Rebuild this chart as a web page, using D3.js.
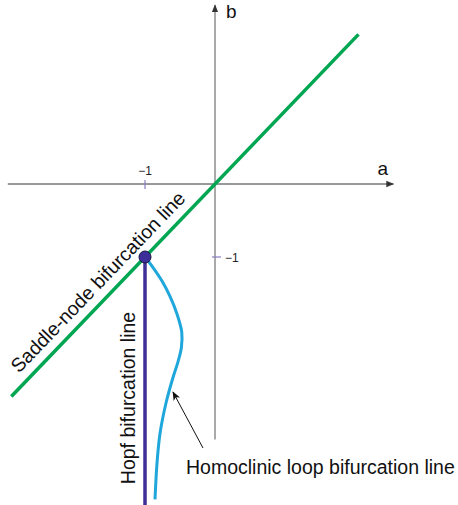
<!DOCTYPE html>
<html>
<head>
<meta charset="utf-8">
<script src="https://cdn.jsdelivr.net/npm/d3@7"></script>
<style>
  body { margin: 0; background: #fff; }
  svg { display: block; font-family: "Liberation Sans", Arial, sans-serif; }
</style>
</head>
<body>
<svg width="458" height="505"></svg>
<script>
// axis extents (data units)
var axisX = [-2.96, 2.55];
var axisY = [-3.5, 2.45];
var tickValues = [-1];

// saddle-node line b = a
var saddleA = [-2.91, 2.05];
// hopf line a = -1
var hopfB = [-1, -4.47];
// homoclinic loop curve (a, b)
var homoA = [-1, -0.9, -0.757, -0.643, -0.543, -0.475, -0.48, -0.53, -0.6, -0.7, -0.786, -0.829, -0.857];
var homoB = [-1, -1.125, -1.33, -1.54, -1.78, -2.03, -2.24, -2.44, -2.65, -3.0, -3.42, -3.83, -4.32];
// bogdanov-takens point
var btPoint = [-1, -1];

var svg = d3.select("svg");

var x = d3.scaleLinear().domain([-1, 0]).range([145, 215]);
var y = d3.scaleLinear().domain([-1, 0]).range([257, 184]);

// arrow markers
var defs = svg.append("defs");
defs.append("marker")
    .attr("id", "axisArrow")
    .attr("viewBox", "0 0 10 10")
    .attr("refX", 9).attr("refY", 5)
    .attr("markerWidth", 8).attr("markerHeight", 8)
    .attr("markerUnits", "userSpaceOnUse")
    .attr("orient", "auto")
  .append("path")
    .attr("d", "M0,1 L10,5 L0,9 Z")
    .attr("fill", "#333");

//////////// AXES ////////////
svg.append("line")
    .attr("x1", x(axisX[0])).attr("y1", y(0))
    .attr("x2", x(axisX[1])).attr("y2", y(0))
    .attr("stroke", "#333").attr("stroke-width", 1)
    .attr("marker-end", "url(#axisArrow)");

svg.append("line")
    .attr("x1", x(0)).attr("y1", y(axisY[0]))
    .attr("x2", x(0)).attr("y2", y(axisY[1]))
    .attr("stroke", "#555").attr("stroke-width", 1)
    .attr("marker-end", "url(#axisArrow)");

svg.append("text")
    .attr("x", x(axisX[1]) - 16).attr("y", y(0) - 9)
    .attr("font-size", 19).attr("fill", "#111")
    .text("a");
svg.append("text")
    .attr("x", x(0) + 11).attr("y", 18)
    .attr("font-size", 19).attr("fill", "#111")
    .text("b");

// ticks
tickValues.forEach(function (t) {
    svg.append("line")
        .attr("x1", x(t)).attr("x2", x(t))
        .attr("y1", y(0) - 4).attr("y2", y(0) + 5)
        .attr("stroke", "#8a7cc6").attr("stroke-width", 1.2);
    svg.append("text")
        .attr("x", x(t)).attr("y", y(0) - 9)
        .attr("text-anchor", "middle")
        .attr("font-size", 12).attr("fill", "#222")
        .text("\u22121");

    svg.append("line")
        .attr("x1", x(0) - 3).attr("x2", x(0) + 6)
        .attr("y1", y(t)).attr("y2", y(t))
        .attr("stroke", "#8a7cc6").attr("stroke-width", 1.2);
    svg.append("text")
        .attr("x", x(0) + 10).attr("y", y(t) + 5)
        .attr("font-size", 12).attr("fill", "#222")
        .text("\u22121");
});

//////////// CURVES ////////////
svg.append("line")
    .attr("x1", x(saddleA[0])).attr("y1", y(saddleA[0]))
    .attr("x2", x(saddleA[1])).attr("y2", y(saddleA[1]))
    .attr("stroke", "#00a651").attr("stroke-width", 3.5);

var homoLine = d3.line()
    .x(function (d, i) { return x(homoA[i]); })
    .y(function (d, i) { return y(homoB[i]); })
    .curve(d3.curveCatmullRom.alpha(0.5));

svg.append("path")
    .attr("d", homoLine(homoB))
    .attr("fill", "none")
    .attr("stroke", "#1fa7dc").attr("stroke-width", 3);

svg.append("line")
    .attr("x1", x(-1)).attr("y1", y(hopfB[0]))
    .attr("x2", x(-1)).attr("y2", y(hopfB[1]))
    .attr("stroke", "#3f2f98").attr("stroke-width", 3.5);

svg.append("circle")
    .attr("cx", x(btPoint[0])).attr("cy", y(btPoint[1]))
    .attr("r", 6)
    .attr("fill", "#3d2f9a").attr("stroke", "#1a1440").attr("stroke-width", 1);

//////////// LABELS ////////////
var ang = Math.atan2(y(1) - y(0), x(1) - x(0)) * 180 / Math.PI;
var sx = x(-1.5), sy = y(-1.5);
svg.append("text")
    .attr("transform", "translate(" + sx + "," + sy + ") rotate(" + ang + ")")
    .attr("dy", -10)
    .attr("text-anchor", "middle")
    .attr("font-size", 19.5).attr("fill", "#111")
    .text("Saddle-node bifurcation line");

svg.append("text")
    .attr("transform", "translate(" + (x(-1) - 10) + "," + 398 + ") rotate(-90)")
    .attr("text-anchor", "middle")
    .attr("font-size", 19.5).attr("fill", "#111")
    .text("Hopf bifurcation line");

svg.append("text")
    .attr("x", 186).attr("y", 474)
    .attr("font-size", 19.5).attr("fill", "#111")
    .text("Homoclinic loop bifurcation line");

defs.append("marker")
    .attr("id", "labelArrow")
    .attr("viewBox", "0 0 10 10")
    .attr("refX", 9).attr("refY", 5)
    .attr("markerWidth", 9).attr("markerHeight", 9)
    .attr("markerUnits", "userSpaceOnUse")
    .attr("orient", "auto")
  .append("path")
    .attr("d", "M0,1 L10,5 L0,9 L2.5,5 Z")
    .attr("fill", "#111");

svg.append("line")
    .attr("x1", 203).attr("y1", 448)
    .attr("x2", x(-0.6)).attr("y2", y(-2.85))
    .attr("stroke", "#111").attr("stroke-width", 1)
    .attr("marker-end", "url(#labelArrow)");
</script>
</body>
</html>
